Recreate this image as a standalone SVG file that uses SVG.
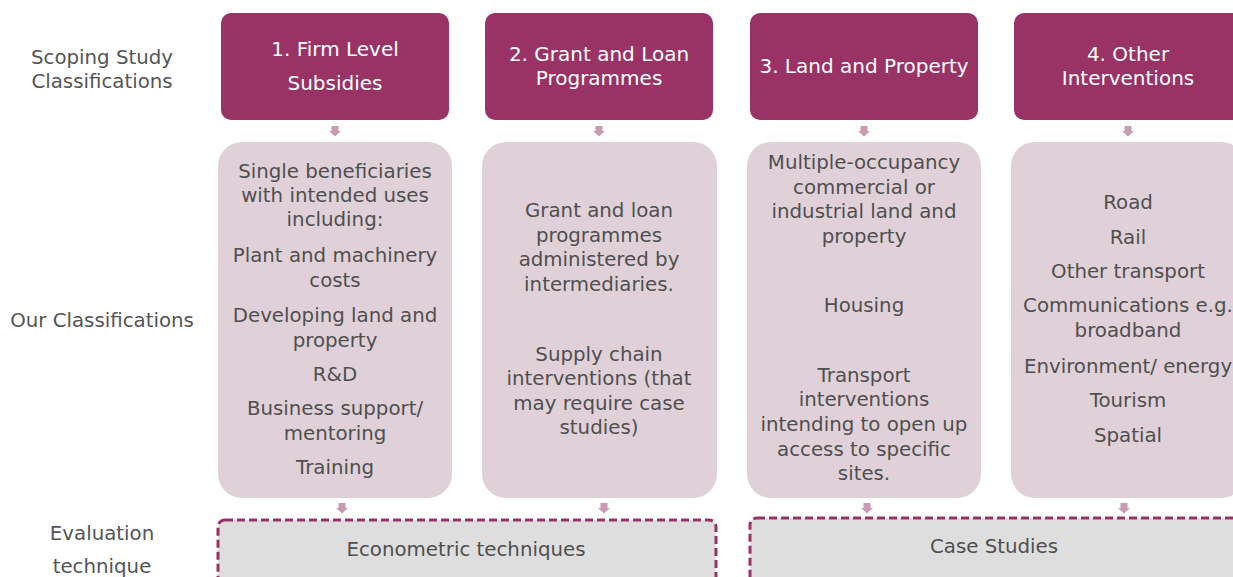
<svg xmlns="http://www.w3.org/2000/svg" width="1233" height="577" viewBox="0 0 1233 577">
  <style>
    text { font-family: "DejaVu Sans", Verdana, sans-serif; text-anchor: middle; }
    .head rect { fill: #993366; }
    .head text { fill: #ffffff; font-size: 20px; }
    .body rect { fill: #e0d1d8; }
    .body text { fill: #4f4f4f; font-size: 19.8px; }
    .label { fill: #555555; font-size: 19.8px; }
    .eval rect { fill: #dedede; stroke: #993366; stroke-width: 3; stroke-dasharray: 8 4; }
    .eval text { fill: #4f4f4f; font-size: 19.8px; }
    .arrow { fill: #c99cb1; }
  </style>
  <defs>
    <path id="dn" class="arrow" d="M-3.5,-5 H3.5 V0 H6 L0,5.5 L-6,0 H-3.5 Z"/>
  </defs>
  <rect width="1233" height="577" fill="#ffffff"/>

  <!-- row labels -->
  <g id="row-labels">
    <text class="label" x="102" y="64">Scoping Study</text>
    <text class="label" x="102" y="88">Classifications</text>
    <text class="label" x="102" y="327">Our Classifications</text>
    <text class="label" x="102" y="540">Evaluation</text>
    <text class="label" x="102" y="573">technique</text>
  </g>

  <!-- scoping study headers -->
  <g id="head1" class="head">
    <rect x="221" y="13" width="228" height="107" rx="10"/>
    <text x="335" y="56">1. Firm Level</text>
    <text x="335" y="90">Subsidies</text>
  </g>
  <g id="head2" class="head">
    <rect x="485" y="13" width="228" height="107" rx="10"/>
    <text x="599" y="61">2. Grant and Loan</text>
    <text x="599" y="85">Programmes</text>
  </g>
  <g id="head3" class="head">
    <rect x="750" y="13" width="228" height="107" rx="10"/>
    <text x="864" y="73">3. Land and Property</text>
  </g>
  <g id="head4" class="head">
    <rect x="1014" y="13" width="228" height="107" rx="10"/>
    <text x="1128" y="61">4. Other</text>
    <text x="1128" y="85">Interventions</text>
  </g>

  <!-- our classifications -->
  <g id="class1" class="body">
    <rect x="218" y="142" width="234" height="356" rx="24"/>
    <text x="335" y="178">Single beneficiaries</text>
    <text x="335" y="202">with intended uses</text>
    <text x="335" y="226">including:</text>
    <text x="335" y="262">Plant and machinery</text>
    <text x="335" y="287">costs</text>
    <text x="335" y="322">Developing land and</text>
    <text x="335" y="347">property</text>
    <text x="335" y="381">R&amp;D</text>
    <text x="335" y="415">Business support/</text>
    <text x="335" y="440">mentoring</text>
    <text x="335" y="474">Training</text>
  </g>
  <g id="class2" class="body">
    <rect x="482" y="142" width="235" height="356" rx="24"/>
    <text x="599" y="217">Grant and loan</text>
    <text x="599" y="242">programmes</text>
    <text x="599" y="266">administered by</text>
    <text x="599" y="291">intermediaries.</text>
    <text x="599" y="361">Supply chain</text>
    <text x="599" y="385">interventions (that</text>
    <text x="599" y="410">may require case</text>
    <text x="599" y="434">studies)</text>
  </g>
  <g id="class3" class="body">
    <rect x="747" y="142" width="234" height="356" rx="24"/>
    <text x="864" y="169">Multiple-occupancy</text>
    <text x="864" y="194">commercial or</text>
    <text x="864" y="218">industrial land and</text>
    <text x="864" y="243">property</text>
    <text x="864" y="312">Housing</text>
    <text x="864" y="382">Transport</text>
    <text x="864" y="406">interventions</text>
    <text x="864" y="431">intending to open up</text>
    <text x="864" y="456">access to specific</text>
    <text x="864" y="480">sites.</text>
  </g>
  <g id="class4" class="body">
    <rect x="1011" y="142" width="234" height="356" rx="24"/>
    <text x="1128" y="209">Road</text>
    <text x="1128" y="244">Rail</text>
    <text x="1128" y="278">Other transport</text>
    <text x="1128" y="312">Communications e.g.</text>
    <text x="1128" y="337">broadband</text>
    <text x="1128" y="373">Environment/ energy</text>
    <text x="1128" y="407">Tourism</text>
    <text x="1128" y="442">Spatial</text>
  </g>

  <!-- evaluation techniques -->
  <g id="eval1" class="eval">
    <rect x="218" y="520" width="498" height="70" rx="7"/>
    <text x="466" y="556">Econometric techniques</text>
  </g>
  <g id="eval2" class="eval">
    <rect x="750" y="518" width="500" height="72" rx="7"/>
    <text x="994" y="553">Case Studies</text>
  </g>

  <!-- connectors -->
  <g id="connectors">
    <use href="#dn" x="335" y="131"/>
    <use href="#dn" x="599" y="131"/>
    <use href="#dn" x="864" y="131"/>
    <use href="#dn" x="1128" y="131"/>
    <use href="#dn" x="342" y="508"/>
    <use href="#dn" x="604" y="508"/>
    <use href="#dn" x="867" y="508"/>
    <use href="#dn" x="1124" y="508"/>
  </g>
</svg>
